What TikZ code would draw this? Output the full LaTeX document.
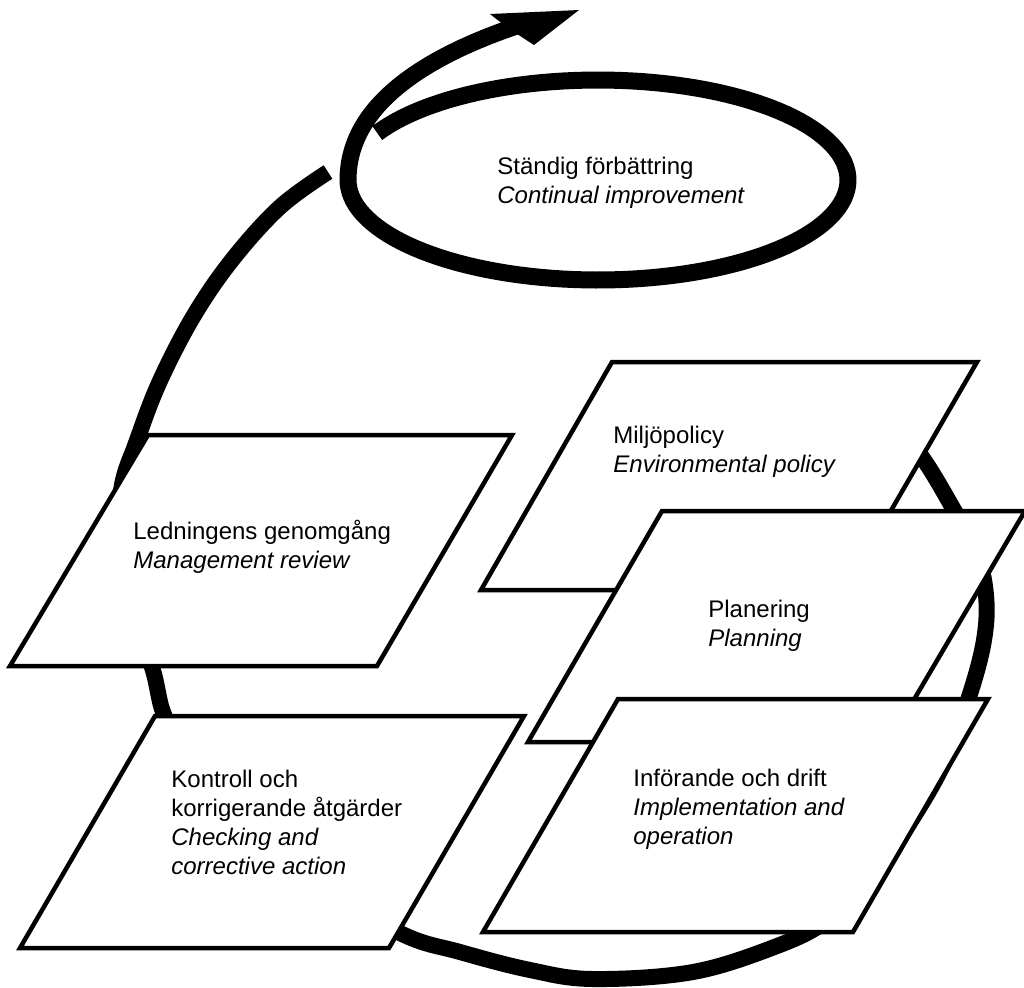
\documentclass[tikz,border=0pt]{standalone}
\usepackage{fontspec}
\setmainfont{Liberation Sans}
\begin{document}
\begin{tikzpicture}[x=0.5pt,y=-0.5pt]
\tikzset{
  box/.style={fill=white, draw=black, line width=2.25pt, line join=miter},
  band/.style={draw=black, line width=8pt, line cap=butt, line join=round},
  lbl/.style={anchor=base west, inner sep=0pt, font=\fontsize{12}{14.5}\selectfont}
}
\useasboundingbox (0,0) rectangle (1024,987);
% big loop (passes behind the boxes)
\draw[band] plot[smooth, tension=0.6] coordinates {
 (895,425) (924,460) (954,510) (976,550) (986,595) (984,640) (969,697)
 (943,765) (905,830) (865,885) (825,922) (777,946) (693,972) (593,979)
 (530,970) (460,952) (400,933) (310,878) (230,800) (180,740) (163,712)
 (152,667) (128,600) (118,540) (122,485) (136,443) (159,383) (193,317)
 (232,260) (280,207) (328,172)};
% spiral round the ellipse, ending in the arrow
\draw[band, line width=8.5pt] plot[domain=152:-258, samples=160, variable=\u]
 ({598+250*(1+0.53*max(0,-180-\u)*max(0,-180-\u)/5625)*cos(\u)},
  {180-100*(1+0.53*max(0,-180-\u)*max(0,-180-\u)/5625)*sin(\u)});
\coordinate (tip) at (579,10);
\fill[black] (490,14) -- (tip) -- (534,45) -- (514,32) -- (504,25) -- cycle;
% boxes
\draw[box] (148,435) -- (512,435) -- (377,666) -- (10,666) -- cycle;
\draw[box] (155,716) -- (524,716) -- (389,948) -- (20,948) -- cycle;
\draw[box] (612,362) -- (977,362) -- (845,590) -- (481,590) -- cycle;
\draw[box] (662,511) -- (1025,511) -- (889,742) -- (528,742) -- cycle;
\draw[box] (618,699) -- (988,699) -- (853,932) -- (483,932) -- cycle;
% texts
\node[lbl] (ci) at (497,174) {\begin{tabular}[t]{@{}l@{}}Ständig förbättring\\ \itshape Continual improvement\end{tabular}};
\node[lbl] (mr) at (133,539) {\begin{tabular}[t]{@{}l@{}}Ledningens genomgång\\ \itshape Management review\end{tabular}};
\node[lbl] (ep) at (613,443) {\begin{tabular}[t]{@{}l@{}}Miljöpolicy\\ \itshape Environmental policy\end{tabular}};
\node[lbl] (pl) at (708,617) {\begin{tabular}[t]{@{}l@{}}Planering\\ \itshape Planning\end{tabular}};
\node[lbl] (ca) at (171,787) {\begin{tabular}[t]{@{}l@{}}Kontroll och\\ korrigerande åtgärder\\ \itshape Checking and\\ \itshape corrective action\end{tabular}};
\node[lbl] (io) at (633,786) {\begin{tabular}[t]{@{}l@{}}Införande och drift\\ \itshape Implementation and\\ \itshape operation\end{tabular}};
\end{tikzpicture}
\end{document}
